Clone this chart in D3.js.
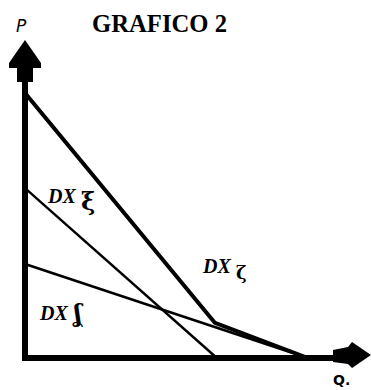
<!DOCTYPE html>
<html>
<head>
<meta charset="utf-8">
<script src="https://cdn.jsdelivr.net/npm/d3@7"></script>
<style>
  body { margin: 0; background: #fff; }
  svg { display: block; }
</style>
</head>
<body>
<svg id="chart"></svg>
<script>
// demand curves (Q and P on a 0-100 scale)
const totalQ = [0, 61.3, 91.3];
const totalP = [85.5, 11.3, 0];
const upperQ = [0, 61.9];
const upperP = [54.8, 0];
const lowerQ = [0, 91.3];
const lowerP = [30.3, 0];

const curveLabels = ['DX', 'DX', 'DX'];
const curveSubs = ['\u03BE', '\u03B6', '\u0286'];

function makeChart() {
    let w = 371;
    let h = 390;

    let svg = d3.select('#chart')
        .attr('width', w)
        .attr('height', h);

    let xScale = d3.scaleLinear()
        .domain([0, 100])
        .range([25, 335]);

    let yScale = d3.scaleLinear()
        .domain([0, 100])
        .range([358, 48]);

    let line = d3.line()
        .x(d => xScale(d[0]))
        .y(d => yScale(d[1]));

    // axes
    svg.append('line')
        .attr('x1', xScale(0)).attr('x2', xScale(0))
        .attr('y1', yScale(0) + 3).attr('y2', 75)
        .attr('stroke', '#000').attr('stroke-width', 6);

    svg.append('line')
        .attr('x1', xScale(0) - 3).attr('x2', 340)
        .attr('y1', yScale(0)).attr('y2', yScale(0))
        .attr('stroke', '#000').attr('stroke-width', 6);

    // arrow heads
    svg.append('path')
        .attr('d', 'M25,40 L41,63 L41,68 L33,68 L33,82 L17,82 L17,68 L9,68 L9,63 Z')
        .attr('fill', '#000');

    svg.append('path')
        .attr('d', 'M333,350 L348,347 L352,342 L371,355 L352,368 L348,364 L333,362 Z')
        .attr('fill', '#000');

    // thin demand lines
    svg.append('path')
        .datum(d3.zip(upperQ, upperP))
        .attr('d', line)
        .attr('fill', 'none')
        .attr('stroke', '#000')
        .attr('stroke-width', 2.4);

    svg.append('path')
        .datum(d3.zip(lowerQ, lowerP))
        .attr('d', line)
        .attr('fill', 'none')
        .attr('stroke', '#000')
        .attr('stroke-width', 2.6);

    // total (kinked) demand
    svg.append('path')
        .datum(d3.zip(totalQ, totalP))
        .attr('d', line)
        .attr('fill', 'none')
        .attr('stroke', '#000')
        .attr('stroke-width', 4)
        .attr('stroke-linejoin', 'round');

    // curve labels
    let labelPos = [[48, 203], [203, 273], [40, 320]];
    let subPos = [[81, 210], [236, 279], [74, 322]];

    labelPos.forEach((p, i) => {
        svg.append('text')
            .attr('x', p[0]).attr('y', p[1])
            .attr('font-family', 'Liberation Serif')
            .attr('font-style', 'italic')
            .attr('font-weight', 'bold')
            .attr('font-size', '20px')
            .attr('fill', '#000')
            .text(curveLabels[i]);
        svg.append('text')
            .attr('x', subPos[i][0]).attr('y', subPos[i][1])
            .attr('font-family', 'DejaVu Serif')
            .attr('font-weight', 'bold')
            .attr('font-size', i == 1 ? '18px' : '24px')
            .attr('fill', '#000')
            .text(curveSubs[i]);
    });

    // axis names and title
    svg.append('text')
        .attr('x', 16).attr('y', 32)
        .attr('font-family', 'DejaVu Sans')
        .attr('font-style', 'italic')
        .attr('font-size', '17px')
        .attr('fill', '#000')
        .text('P');

    svg.append('text')
        .attr('x', 333).attr('y', 385)
        .attr('font-family', 'DejaVu Sans')
        .attr('font-weight', 'bold')
        .attr('font-size', '14px')
        .attr('fill', '#000')
        .text('Q.');

    svg.append('text')
        .attr('x', 92).attr('y', 32)
        .attr('font-family', 'Liberation Serif')
        .attr('font-weight', 'bold')
        .attr('font-size', '25px')
        .attr('textLength', 135)
        .attr('lengthAdjust', 'spacingAndGlyphs')
        .attr('fill', '#000')
        .text('GRAFICO 2');
}

window.onload = function() {
    makeChart();
}
</script>
</body>
</html>
